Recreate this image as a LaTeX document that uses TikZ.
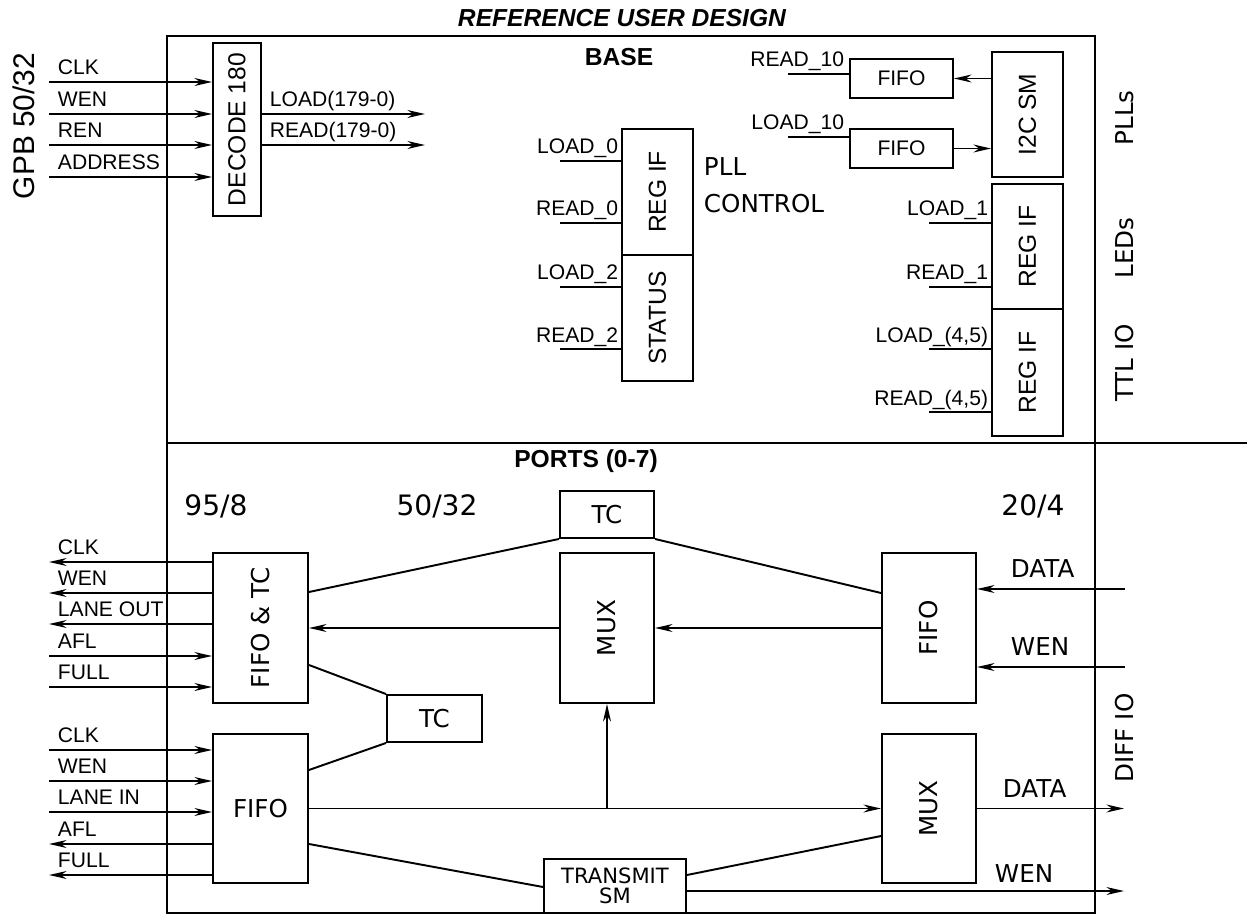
\documentclass[tikz,border=0pt]{standalone}
\usepackage{fontspec}
\setmainfont{Liberation Sans}
\newfontfamily\dvsans{DejaVu Sans}
\usepackage{graphicx}
\usetikzlibrary{arrows.meta,calc}

\begin{document}
\begin{tikzpicture}[x=0.02cm, y=-0.02cm, line width=1.1pt,
        >={Stealth[length=10pt,width=4.5pt]},
        blk/.style 2 args={draw, inner sep=0pt, minimum width=#1*0.02cm, minimum height=#2*0.02cm},
        sig/.style={font=\fontsize{12}{14}\selectfont, inner sep=0pt},
        dv/.style={font=\dvsans\fontsize{14}{17}\selectfont, inner sep=0pt}]
        \useasboundingbox (0,0) rectangle (1247,915);

        % frame
        \draw (167,36) rectangle (1095,913);
        \draw (167,443) -- (1247,443);
        \node[font=\bfseries\itshape\fontsize{14}{17}\selectfont] (title) at (622,18) {REFERENCE USER DESIGN};
        \node[font=\bfseries\fontsize{14}{17}\selectfont] (base) at (619,57) {BASE};
        \node[font=\bfseries\fontsize{14}{17}\selectfont] (ports) at (586,461) {PORTS (0-7)};

        % decoder
        \node[rotate=90, font=\fontsize{17}{20}\selectfont] (gpb) at (24,126) {GPB 50/32};
        \node[blk={48}{173}] (dec) at (237,129.5) {\rotatebox{90}{\fontsize{14}{17}\selectfont DECODE 180}};
        \foreach \y/\t [count=\i] in {82/CLK, 114/WEN, 145/REN, 177/ADDRESS}{
            \coordinate (gi\i) at (49,\y);
            \draw[->] (gi\i) -- (dec.west |- gi\i);
            \node[sig, anchor=base west] at ($(gi\i)+(8,-7)$) {\t};
        }
        \foreach \y/\t [count=\i] in {114/LOAD(179-0), 145/READ(179-0)}{
            \coordinate (go\i) at (425,\y);
            \draw[->] (dec.east |- go\i) -- (go\i);
            \node[sig, anchor=base west] at ($(dec.east |- go\i)+(7,-7)$) {\t};
        }

        % pll control
        \node[blk={71}{126}] (regpll) at (657.5,192) {\rotatebox{90}{\fontsize{14}{17}\selectfont REG IF}};
        \node[blk={71}{126}] (status) at (657.5,318) {\rotatebox{90}{\fontsize{14}{17}\selectfont STATUS}};
        \node[dv, align=left, anchor=north west, font=\dvsans\fontsize{14}{21}\selectfont] (pllctl) at (703,157) {PLL\\CONTROL};
        \foreach \y/\t [count=\i] in {161/LOAD\_0, 223/READ\_0, 287/LOAD\_2, 349/READ\_2}{
            \coordinate (pi\i) at (560,\y);
            \draw (pi\i) -- (regpll.west |- pi\i);
            \node[sig, anchor=base east] at ($(regpll.west |- pi\i)+(-2,-7)$) {\t};
        }

        % i2c
        \node[blk={103}{39}, font=\fontsize{12}{14}\selectfont] (fiford) at (901.5,78.5) {FIFO};
        \node[blk={103}{39}, font=\fontsize{12}{14}\selectfont] (fifold) at (901.5,148.5) {FIFO};
        \node[blk={71}{125}] (i2c) at (1027.5,114.5) {\rotatebox{90}{\fontsize{14}{17}\selectfont I2C SM}};
        \draw[->] (i2c.west |- fiford) -- (fiford.east);
        \draw[->] (fifold.east) -- (i2c.west |- fifold);
        \foreach \y/\t [count=\i] in {74/READ\_10, 137/LOAD\_10}{
            \coordinate (fi\i) at (788,\y);
            \draw (fi\i) -- (fiford.west |- fi\i);
            \node[sig, anchor=base east] at ($(fiford.west |- fi\i)+(-4,-7)$) {\t};
        }

        % leds and ttl io
        \node[blk={71}{125}] (regled) at (1027.5,246.5) {\rotatebox{90}{\fontsize{14}{17}\selectfont REG IF}};
        \node[blk={71}{127}] (regttl) at (1027.5,372.5) {\rotatebox{90}{\fontsize{14}{17}\selectfont REG IF}};
        \foreach \y/\t [count=\i] in {223/LOAD\_1, 287/READ\_1, 349/LOAD\_(4{,}5), 412/READ\_(4{,}5)}{
            \coordinate (ri\i) at (929,\y);
            \draw (ri\i) -- (regled.west |- ri\i);
            \node[sig, anchor=base east] at ($(regled.west |- ri\i)+(-2,-7)$) {\t};
        }
        \node[dv, rotate=90] (plls) at (1125,118) {PLLs};
        \node[dv, rotate=90] (leds) at (1125,248) {LEDs};
        \node[dv, rotate=90] (ttlio) at (1125,363) {TTL IO};
        \node[dv, rotate=90] (diffio) at (1125,738) {DIFF IO};

        % ports
        \node[font=\dvsans\fontsize{16}{19}\selectfont] (w95) at (216,506) {95/8};
        \node[font=\dvsans\fontsize{16}{19}\selectfont] (w50) at (437,506) {50/32};
        \node[font=\dvsans\fontsize{16}{19}\selectfont] (w20) at (1033,506) {20/4};
        \node[blk={95}{150}] (fifotc) at (260.5,628) {\rotatebox{90}{\dvsans\fontsize{14}{17}\selectfont FIFO \& TC}};
        \node[blk={95}{149}, dv] (fifoin) at (260.5,808.5) {FIFO};
        \node[blk={95}{47}, dv] (tcmid) at (434.5,718.5) {TC};
        \node[blk={94}{47}, dv] (tctop) at (607,514.5) {TC};
        \node[blk={94}{150}] (muxtop) at (607,628) {\rotatebox{90}{\dvsans\fontsize{14}{17}\selectfont MUX}};
        \node[blk={94}{150}] (fifodat) at (929,628) {\rotatebox{90}{\dvsans\fontsize{14}{17}\selectfont FIFO}};
        \node[blk={94}{149}] (muxout) at (929,808.5) {\rotatebox{90}{\dvsans\fontsize{14}{17}\selectfont MUX}};
        \node[blk={142}{54}, align=center, font=\dvsans\fontsize{12}{11.5}\selectfont] (txsm) at (615,886) {TRANSMIT\\SM};

        % lane out side
        \foreach \y/\t [count=\i] in {562/CLK, 593/WEN, 624/LANE OUT}{
            \coordinate (lo\i) at (49,\y);
            \draw[->] (fifotc.west |- lo\i) -- (lo\i);
            \node[sig, anchor=base west] at ($(lo\i)+(8,-8)$) {\t};
        }
        \foreach \y/\t [count=\i] in {656/AFL, 687/FULL}{
            \coordinate (la\i) at (49,\y);
            \draw[->] (la\i) -- (fifotc.west |- la\i);
            \node[sig, anchor=base west] at ($(la\i)+(8,-8)$) {\t};
        }
        % lane in side
        \foreach \y/\t [count=\i] in {750/CLK, 781/WEN, 812/LANE IN}{
            \coordinate (li\i) at (49,\y);
            \draw[->] (li\i) -- (fifoin.west |- li\i);
            \node[sig, anchor=base west] at ($(li\i)+(8,-8)$) {\t};
        }
        \foreach \y/\t [count=\i] in {844/AFL, 875/FULL}{
            \coordinate (lf\i) at (49,\y);
            \draw[->] (fifoin.west |- lf\i) -- (lf\i);
            \node[sig, anchor=base west] at ($(lf\i)+(8,-8)$) {\t};
        }

        \draw (fifotc.east |- 0,592) -- (tctop.south west);
        \draw (tctop.south east) -- (fifodat.west |- 0,593);
        \draw[->] (fifodat.west) -- (muxtop.east);
        \draw[->] (muxtop.west) -- (fifotc.east);
        \draw (fifotc.east |- 0,665) -- (tcmid.north west);
        \draw (fifoin.east |- 0,770) -- (tcmid.south west);
        \draw[->] (fifoin.east) -- (muxout.west);
        \draw[->] (muxtop.south |- fifoin.east) -- (muxtop.south);
        \draw (fifoin.east |- 0,844) -- (txsm.west |- 0,887);
        \draw (txsm.east |- 0,875) -- (muxout.west |- 0,836);

        % diff io
        \coordinate (datin) at (1125,589);
        \coordinate (wenin) at (1125,667);
        \coordinate (datout) at (1124,808.5);
        \coordinate (wenout) at (1124,891);
        \draw[->] (datin) -- (fifodat.east |- datin);
        \draw[->] (wenin) -- (fifodat.east |- wenin);
        \draw[->] (muxout.east) -- (datout);
        \draw[->] (txsm.east |- wenout) -- (wenout);
        \node[dv, anchor=base west] at ($(fifodat.east |- datin)+(33,-12)$) {DATA};
        \node[dv, anchor=base west] at ($(fifodat.east |- wenin)+(33,-12)$) {WEN};
        \node[dv, anchor=base west] at ($(muxout.east)+(25,-11)$) {DATA};
        \node[dv, anchor=base west] at ($(muxout.east |- wenout)+(17,-9)$) {WEN};
\end{tikzpicture}
\end{document}
